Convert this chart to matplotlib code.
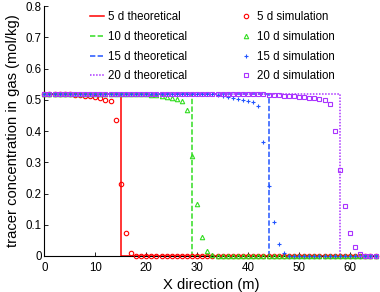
import matplotlib
matplotlib.use("Agg")
import matplotlib.pyplot as plt

plt.rcParams['font.family'] = ['Liberation Sans', 'DejaVu Sans']

# ---- data ----
c0 = 0.52
fronts = [15, 29, 44, 58]           # theoretical front positions (m) for 5, 10, 15, 20 d
x_max = 65.5
theo_labels = ["5 d theoretical", "10 d theoretical", "15 d theoretical", "20 d theoretical"]
sim_labels = ["5 d simulation", "10 d simulation", "15 d simulation", "20 d simulation"]

x_sim = [0, 1, 2, 3, 4, 5, 6, 7, 8, 9, 10, 11, 12, 13, 14, 15, 16, 17, 18, 19,
         20, 21, 22, 23, 24, 25, 26, 27, 28, 29, 30, 31, 32, 33, 34, 35, 36, 37, 38, 39,
         40, 41, 42, 43, 44, 45, 46, 47, 48, 49, 50, 51, 52, 53, 54, 55, 56, 57, 58, 59,
         60, 61, 62, 63, 64, 65]

sim_5d = [0.52, 0.52, 0.52, 0.52, 0.52, 0.519, 0.517, 0.515, 0.513, 0.511,
          0.508, 0.505, 0.501, 0.496, 0.436, 0.23, 0.075, 0.01, 0, 0,
          0, 0, 0, 0, 0, 0, 0, 0, 0, 0,
          0, 0, 0, 0, 0, 0, 0, 0, 0, 0,
          0, 0, 0, 0, 0, 0, 0, 0, 0, 0,
          0, 0, 0, 0, 0, 0, 0, 0, 0, 0,
          0, 0, 0, 0, 0, 0]

sim_10d = [0.52, 0.52, 0.52, 0.52, 0.52, 0.52, 0.52, 0.52, 0.52, 0.52,
           0.52, 0.52, 0.52, 0.52, 0.52, 0.52, 0.52, 0.52, 0.519, 0.519,
           0.518, 0.517, 0.515, 0.513, 0.510, 0.506, 0.502, 0.497, 0.469, 0.32,
           0.166, 0.062, 0.016, 0.003, 0, 0, 0, 0, 0, 0,
           0, 0, 0, 0, 0, 0, 0, 0, 0, 0,
           0, 0, 0, 0, 0, 0, 0, 0, 0, 0,
           0, 0, 0, 0, 0, 0]

sim_15d = [0.52, 0.52, 0.52, 0.52, 0.52, 0.52, 0.52, 0.52, 0.52, 0.52,
           0.52, 0.52, 0.52, 0.52, 0.52, 0.52, 0.52, 0.52, 0.52, 0.52,
           0.52, 0.52, 0.52, 0.52, 0.52, 0.52, 0.52, 0.52, 0.52, 0.52,
           0.52, 0.52, 0.519, 0.518, 0.516, 0.513, 0.510, 0.507, 0.504, 0.501,
           0.497, 0.493, 0.479, 0.366, 0.225, 0.11, 0.04, 0.008, 0, 0,
           0, 0, 0, 0, 0, 0, 0, 0, 0, 0,
           0, 0, 0, 0, 0, 0]

sim_20d = [0.52, 0.52, 0.52, 0.52, 0.52, 0.52, 0.52, 0.52, 0.52, 0.52,
           0.52, 0.52, 0.52, 0.52, 0.52, 0.52, 0.52, 0.52, 0.52, 0.52,
           0.52, 0.52, 0.52, 0.52, 0.52, 0.52, 0.52, 0.52, 0.52, 0.52,
           0.52, 0.52, 0.52, 0.52, 0.52, 0.52, 0.52, 0.52, 0.52, 0.52,
           0.52, 0.52, 0.52, 0.52, 0.516, 0.514, 0.514, 0.513, 0.512, 0.511,
           0.510, 0.509, 0.507, 0.505, 0.502, 0.498, 0.487, 0.40, 0.275, 0.159,
           0.075, 0.028, 0.007, 0, 0, 0]

sims = [sim_5d, sim_10d, sim_15d, sim_20d]

x_ticks = [0, 10, 20, 30, 40, 50, 60]
y_ticks = [0, 0.1, 0.2, 0.3, 0.4, 0.5, 0.6, 0.7, 0.8]
y_ticklabels = ["0", "0.1", "0.2", "0.3", "0.4", "0.5", "0.6", "0.7", "0.8"]

# ---- styles ----
colors = ['#ff0000', '#33dd22', '#2255ff', '#aa33ff']
line_styles = ['-', (0, (3.5, 1.5)), (0, (3.5, 1.5)), (0, (1.0, 1.0))]
markers = ['o', '^', '+', 's']

fig = plt.figure(figsize=(3.8, 2.92), dpi=100)
ax = fig.add_axes([0.1166, 0.1233, 0.8784, 0.8557])

handles_theo = []
for f, c, ls, lab in zip(fronts, colors, line_styles, theo_labels):
    h, = ax.plot([0, f, f, x_max], [c0, c0, 0, 0], color=c, linestyle=ls,
                 linewidth=1.1, label=lab, zorder=2)
    handles_theo.append(h)

handles_sim = []
for s, c, m, lab in zip(sims, colors, markers, sim_labels):
    h, = ax.plot(x_sim, s, linestyle='none', marker=m, markersize=3.2,
                 markerfacecolor='none', markeredgecolor=c, markeredgewidth=0.8,
                 label=lab, zorder=3, clip_on=False)
    handles_sim.append(h)

ax.set_xlim(0, x_max)
ax.set_ylim(0, 0.8)
ax.set_xticks(x_ticks)
ax.set_yticks(y_ticks)
ax.set_yticklabels(y_ticklabels)
ax.spines['top'].set_visible(False)
ax.spines['right'].set_visible(False)
ax.spines['left'].set_linewidth(0.8)
ax.spines['bottom'].set_linewidth(0.8)
ax.tick_params(direction='in', length=3, width=0.6, labelsize=8.3)
ax.tick_params(axis='x', pad=4)
ax.tick_params(axis='y', pad=2)
ax.set_xlabel("X direction (m)", fontsize=10.6, labelpad=3)
ax.set_ylabel("tracer concentration in gas (mol/kg)", fontsize=10.6, labelpad=4)

leg = ax.legend(handles_theo + handles_sim, theo_labels + sim_labels, ncol=2,
                frameon=False, fontsize=8.3, loc='upper left',
                bbox_to_anchor=(90 / 380, 1 - 11.5 / 292), bbox_transform=fig.transFigure,
                borderpad=0, borderaxespad=0, handlelength=1.2, handletextpad=0.35,
                labelspacing=0.66, columnspacing=4.5)

fig.savefig("out.png", dpi=100)
